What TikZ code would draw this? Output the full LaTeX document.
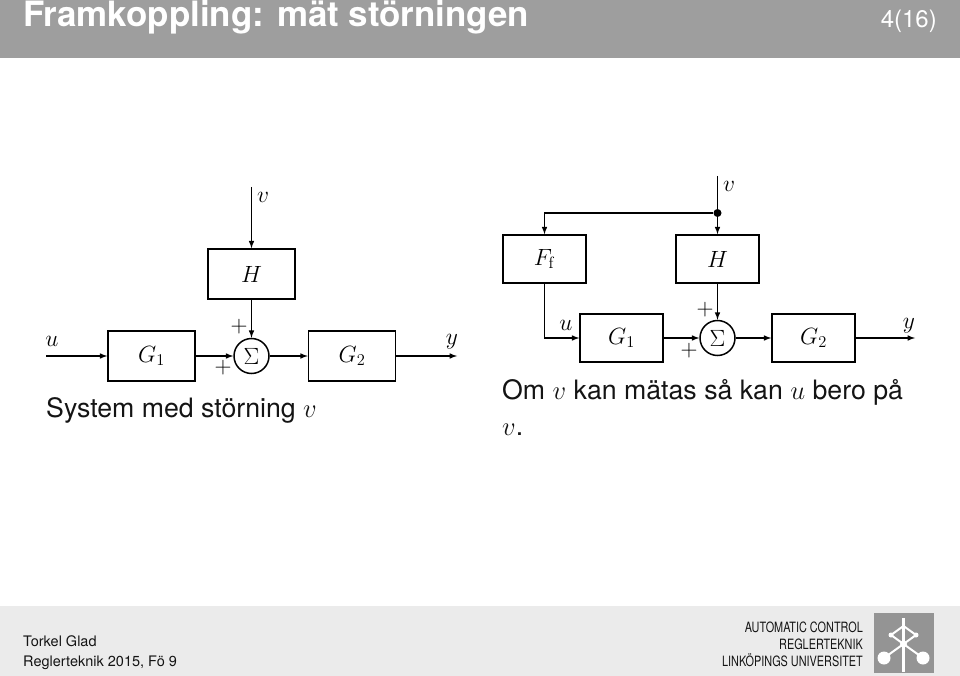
\documentclass[tikz,border=0pt]{standalone}
\usepackage{fix-cm}
\usepackage{amsmath}
\usepackage[no-math]{fontspec}
\setmainfont{TeX Gyre Heros}
\newfontfamily\deptfont[FakeStretch=0.765]{TeX Gyre Heros}
\usepackage{tikz}
\definecolor{headgray}{gray}{0.62}
\definecolor{footgray}{gray}{0.92}
\definecolor{logogray}{gray}{0.58}
\definecolor{inkgray}{gray}{0.08}
\tikzset{
	blk/.style={draw, line width=1.5pt, inner sep=0pt, font=\fontsize{23.5}{26}\selectfont},
	sumnode/.style={draw, circle, line width=1.5pt, inner sep=0pt, minimum size=35pt, font=\fontsize{23.5}{26}\selectfont},
	sig/.style={line width=1.5pt, ->, >=latex},
	lbl/.style={inner sep=0pt, font=\fontsize{23.5}{26}\selectfont},
	txt/.style={inner sep=0pt, anchor=base west, text=inkgray},
	dept/.style={inner sep=0pt, anchor=base east, text=inkgray, font=\fontsize{14.2}{17}\deptfont},
}
\begin{document}
\begin{tikzpicture}[x=1pt, y=-1pt]
	\useasboundingbox (0,0) rectangle (960,676);
	% header and footer
	\fill[headgray] (0,0) rectangle (960,58);
	\fill[footgray] (0,606) rectangle (960,676);
	\node[txt, text=white, font=\fontsize{34.9}{38}\selectfont\bfseries] (title) at (23,26.5) {Framkoppling: mät störningen};
	\node[txt, text=white, anchor=base east, font=\fontsize{24}{28}\selectfont] (page) at (937,28) {4(16)};
	\node[txt, font=\fontsize{14.5}{17}\selectfont] (author) at (23,646) {Torkel Glad};
	\node[txt, font=\fontsize{14.5}{17}\selectfont] (course) at (23,666) {Reglerteknik 2015, Fö 9};
	\node[dept] (dept1) at (863,632) {AUTOMATIC CONTROL};
	\node[dept] (dept2) at (863,649) {REGLERTEKNIK};
	\node[dept] (dept3) at (863,666) {LINKÖPINGS UNIVERSITET};
	% logo
	\fill[logogray] (874,613) rectangle (934,673);
	\draw[white, line width=2.5pt] (903.5,618) -- (903.5,672);
	\draw[white, line width=2pt] (891,635) -- (903.5,626) -- (916,635) -- (903.5,644) -- cycle;
	\draw[white, line width=2pt] (884,658) -- (903.5,644) -- (923,658);
	\fill[white] (884,658) circle (6.5) (923,658) circle (6.5) (891,635) circle (2.5) (916,635) circle (2.5) (903.5,644) circle (3.5);

	% left: system with disturbance
	\node[blk, minimum width=87pt, minimum height=50pt] (lH) at (251.5,274) {$H$};
	\node[blk, minimum width=87pt, minimum height=50pt] (lG1) at (151.5,356) {$G_1$};
	\node[blk, minimum width=87pt, minimum height=50pt] (lG2) at (352,356) {$G_2$};
	\node[sumnode] (lS) at (251.5,356) {$\Sigma$};
	\coordinate (lv) at (251.5,187);
	\coordinate (lu) at (46,356);
	\coordinate (ly) at (457,356);
	\draw[sig] (lv) -- (lH);
	\draw[sig] (lH) -- (lS);
	\draw[sig] (lu) -- (lG1);
	\draw[sig] (lG1) -- (lS);
	\draw[sig] (lS) -- (lG2);
	\draw[sig] (lG2) -- (ly);
	\node[lbl] (lvt) at (263,197) {$v$};
	\node[lbl] (lut) at (52,341) {$u$};
	\node[lbl] (lyt) at (452,342) {$y$};
	\node[lbl] (lp1) at (239,327) {$+$};
	\node[lbl] (lp2) at (223,368) {$+$};
	\node[txt, font=\fontsize{26.7}{32}\selectfont] (lcap) at (46,417) {System med störning $v$};

	% right: with feedforward
	\node[blk, minimum width=83pt, minimum height=48pt] (rF) at (544.5,259) {$F_{\mathrm{f}}$};
	\node[blk, minimum width=83pt, minimum height=48pt] (rH) at (717.5,259) {$H$};
	\node[blk, minimum width=83pt, minimum height=48pt] (rG1) at (621.5,338) {$G_1$};
	\node[blk, minimum width=83pt, minimum height=48pt] (rG2) at (813.5,338) {$G_2$};
	\node[sumnode] (rS) at (717.5,338) {$\Sigma$};
	\coordinate (rv) at (717.5,176);
	\coordinate (ry) at (915,338);
	\node[fill, circle, inner sep=0pt, minimum size=8pt] (rd) at (717.5,213) {};
	\draw[line width=1.5pt] (rv) -- (rd);
	\draw[sig] (rd) -- (rH);
	\draw[sig] (rd) -| (rF);
	\draw[sig] (rF) |- (rG1);
	\draw[sig] (rH) -- (rS);
	\draw[sig] (rG1) -- (rS);
	\draw[sig] (rS) -- (rG2);
	\draw[sig] (rG2) -- (ry);
	\node[lbl] (rvt) at (729,186) {$v$};
	\node[lbl] (rut) at (566,325) {$u$};
	\node[lbl] (ryt) at (909,326) {$y$};
	\node[lbl] (rp1) at (705,310) {$+$};
	\node[lbl] (rp2) at (689,351) {$+$};
	\node[txt, font=\fontsize{26.7}{32}\selectfont] (rcap1) at (502,399) {Om $v$ kan mätas så kan $u$ bero på};
	\node[txt, font=\fontsize{26.7}{32}\selectfont] (rcap2) at (502,435) {$v$.};
\end{tikzpicture}
\end{document}
